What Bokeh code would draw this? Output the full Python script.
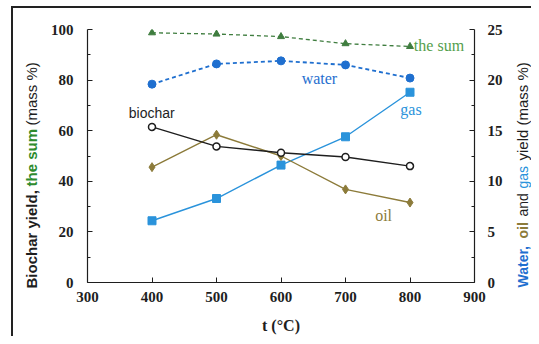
import math
from bokeh.plotting import figure
from bokeh.layouts import row
from bokeh.models import Range1d, LinearAxis, Label, FixedTicker, InlineStyleSheet
from bokeh.embed import file_html
from bokeh.resources import INLINE

temps = [400, 500, 600, 700, 800]
biochar = [61.5, 53.8, 51.3, 49.6, 46.0]
the_sum = [98.7, 98.2, 97.2, 94.4, 93.3]
water = [19.6, 21.6, 21.9, 21.5, 20.2]
oil = [11.4, 14.6, 12.5, 9.2, 7.9]
gas = [6.1, 8.3, 11.6, 14.4, 18.8]

x_ticks = [300, 400, 500, 600, 700, 800, 900]
left_ticks = [0, 20, 40, 60, 80, 100]
right_ticks = [0, 5, 10, 15, 20, 25]

GREEN = "#3f7d3f"
GREEN_T = "#55a04d"
GREEN_AX = "#2e8b2e"
BLUE_W = "#1f6fcf"
BLUE_G = "#2a93db"
OLIVE = "#8c7b3a"
BLACK = "#1e1e1e"
SERIF = "Liberation Serif"
SANS = "Liberation Sans"

H = 336
LW, RW = 45, 19
MW = 531 - LW - RW

p = figure(width=MW, height=H, output_backend="svg", toolbar_location=None,
           x_range=Range1d(300, 900), y_range=Range1d(0, 100), frame_align=False,
           min_border_left=42, min_border_right=38, min_border_top=29, min_border_bottom=54)
p.extra_y_ranges = {"r": Range1d(0, 25)}
p.outline_line_color = None
p.xgrid.visible = False
p.ygrid.visible = False
p.background_fill_color = "white"
p.border_fill_color = "white"

raxis = LinearAxis(y_range_name="r")
p.add_layout(raxis, "right")

for ax in [p.xaxis[0], p.yaxis[0], raxis]:
    ax.axis_line_color = BLACK
    ax.axis_line_width = 1.2
    ax.major_tick_line_color = BLACK
    ax.minor_tick_line_color = BLACK
    ax.major_tick_in = 5
    ax.major_tick_out = 0
    ax.minor_tick_in = 3
    ax.minor_tick_out = 0
    ax.major_label_text_font = SERIF
    ax.major_label_text_font_style = "bold"
    ax.major_label_text_font_size = "15px"
    ax.major_label_text_color = BLACK
    ax.major_label_standoff = 14

raxis.major_label_standoff = 13
p.xaxis[0].ticker = FixedTicker(ticks=x_ticks)
p.xaxis[0].major_label_standoff = 9
p.xaxis[0].axis_label = "t (°C)"
p.xaxis[0].axis_label_text_font = SERIF
p.xaxis[0].axis_label_text_font_style = "bold"
p.xaxis[0].axis_label_text_font_size = "16px"
p.xaxis[0].axis_label_text_color = BLACK
p.xaxis[0].axis_label_standoff = 12
p.yaxis[0].ticker = FixedTicker(ticks=left_ticks, minor_ticks=[10, 30, 50, 70, 90])
raxis.ticker = FixedTicker(ticks=right_ticks, minor_ticks=[2.5, 7.5, 12.5, 17.5, 22.5])

# series
p.line(temps, the_sum, line_color=GREEN, line_width=1.3, line_dash="4 3")
p.scatter(temps, the_sum, marker="triangle", size=7, color=GREEN)

p.line(temps, water, line_color=BLUE_W, line_width=1.8, line_dash="4 3", y_range_name="r")
p.scatter(temps, water, marker="circle", size=8, color=BLUE_W, y_range_name="r")

p.line(temps, gas, line_color=BLUE_G, line_width=1.4, y_range_name="r")
p.scatter(temps, gas, marker="square", size=8, color=BLUE_G, y_range_name="r")

p.line(temps, oil, line_color=OLIVE, line_width=1.4, y_range_name="r")
p.scatter(temps, oil, marker="diamond", size=9, color=OLIVE, y_range_name="r")

p.line(temps, biochar, line_color=BLACK, line_width=1.4)
p.scatter(temps, biochar, marker="circle", size=7, line_color=BLACK, line_width=1.5, fill_color="white")

# series labels
def dlabel(x, y, text, color, font, size="16px"):
    p.add_layout(Label(x=x, y=y, text=text, text_color=color, text_font=font,
                       text_font_size=size, text_baseline="middle", text_align="left"))

dlabel(806, 93.6, "the sum", GREEN_T, SERIF)
dlabel(632, 80.5, "water", BLUE_W, SERIF)
dlabel(785, 68.2, "gas", BLUE_G, SERIF)
dlabel(364, 67.0, "biochar", BLACK, SANS, size="14px")
dlabel(746, 26.3, "oil", OLIVE, SERIF)


def side_fig(w):
    f = figure(width=w, height=H, output_backend="svg", toolbar_location=None,
               x_range=Range1d(0, w), y_range=Range1d(0, H), frame_align=False,
               x_axis_type=None, y_axis_type=None, min_border=0)
    f.outline_line_color = None
    f.xgrid.visible = False
    f.ygrid.visible = False
    f.background_fill_color = "white"
    f.border_fill_color = "white"
    return f


def vlabel(f, x, top_y, text, color, bold, size):
    # top_y measured from the top of the picture; text runs upward from there
    f.add_layout(Label(x=x, y=H - top_y, text=text, angle=math.pi / 2,
                       text_align="left", text_baseline="middle",
                       text_color=color, text_font=SANS, text_font_size=size,
                       text_font_style="bold" if bold else "normal"))


lf = side_fig(LW)
vlabel(lf, 31, 288, "Biochar yield,", BLACK, True, "15px")
vlabel(lf, 31, 186, "the sum", GREEN_AX, True, "15px")
vlabel(lf, 31, 125, "(mass %)", BLACK, False, "15px")

rf = side_fig(RW)
vlabel(rf, 10, 287, "Water,", BLUE_W, True, "14px")
vlabel(rf, 10, 238, "oil", OLIVE, True, "14px")
vlabel(rf, 10, 216, "and", BLACK, False, "14px")
vlabel(rf, 10, 188, "gas", BLUE_G, False, "14px")
vlabel(rf, 10, 160, "yield (mass %)", BLACK, False, "15px")

css = InlineStyleSheet(css="""
:host { position: relative; }
:host::after { content: ''; position: absolute; left: 11px; top: 6px; right: 0; bottom: 0;
  border-left: 2px solid #222; border-top: 2px solid #222; pointer-events: none; z-index: 10; }
""")
layout = row(lf, p, rf, spacing=0, stylesheets=[css])

open("out.html", "w").write(file_html(layout, INLINE))
